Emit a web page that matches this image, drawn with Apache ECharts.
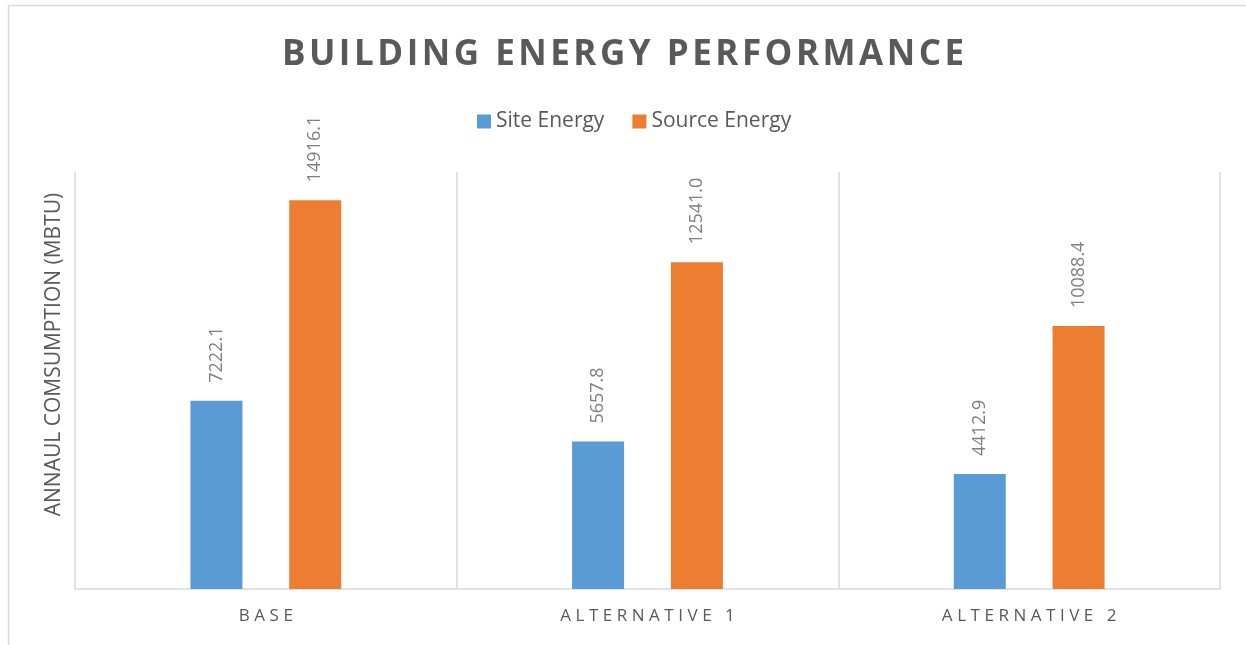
<!DOCTYPE html>
<html>
<head>
<meta charset="utf-8">
<script src="https://cdn.jsdelivr.net/npm/echarts@6/dist/echarts.min.js"></script>
<style>
  html, body { margin: 0; padding: 0; background: #fff; }
  #chart { width: 1246px; height: 645px; }
</style>
</head>
<body>
<div id="chart"></div>
<script>
// Annual energy use per design option (MBTU)
const categories = ['BASE', 'ALTERNATIVE 1', 'ALTERNATIVE 2'];
const siteEnergy = [7222.1, 5657.8, 4412.9];
const sourceEnergy = [14916.1, 12541.0, 10088.4];
const seriesNames = ['Site Energy', 'Source Energy'];
const chartTitle = 'BUILDING ENERGY PERFORMANCE';
const axisTitle = 'ANNAUL COMSUMPTION (MBTU)';

// canvas text has no tracking, so widen it with narrow space characters
const spaced = (s, gap) => s.split('').join(gap);

const chart = echarts.init(document.getElementById('chart'));

const labelStyle = {
  show: true,
  position: 'top',
  rotate: 90,
  align: 'left',
  verticalAlign: 'middle',
  distance: 18,
  color: '#7f7f7f',
  fontFamily: 'Open Sans',
  fontSize: 18,
  formatter: p => p.value.toFixed(1)
};

chart.setOption({
  animation: false,
  title: {
    text: spaced(chartTitle, '\u200A'),
    left: 'center',
    top: 33,
    textStyle: {
      fontFamily: 'Open Sans',
      fontWeight: 'bold',
      fontSize: 35,
      color: '#595959'
    }
  },
  legend: {
    data: seriesNames,
    top: 106,
    left: 472,
    itemWidth: 14,
    itemHeight: 14,
    itemGap: 28,
    icon: 'rect',
    textStyle: { fontFamily: 'Open Sans', fontSize: 21, color: '#595959' }
  },
  grid: { left: 75, right: 26, top: 172, bottom: 56 },
  xAxis: {
    type: 'category',
    data: categories,
    axisLine: { lineStyle: { color: '#d9d9d9', width: 1.5 } },
    axisTick: { show: false },
    splitLine: { show: true, lineStyle: { color: '#d9d9d9', width: 1.5 } },
    axisLabel: {
      color: '#595959',
      fontFamily: 'Open Sans',
      fontSize: 17,
      margin: 19,
      formatter: v => spaced(v, '\u2009\u200A')
    }
  },
  yAxis: {
    type: 'value',
    min: 0,
    max: 16000,
    interval: 2000,
    name: axisTitle,
    nameLocation: 'middle',
    nameGap: 10,
    nameRotate: 90,
    nameTextStyle: { fontFamily: 'Open Sans', fontSize: 21, color: '#595959', padding: [0, 0, 0, 52] },
    axisLabel: { show: false },
    axisLine: { show: false },
    axisTick: { show: false },
    splitLine: { show: false }
  },
  series: [
    {
      name: seriesNames[0],
      type: 'bar',
      data: siteEnergy,
      barWidth: 52,
      barGap: '90%',
      itemStyle: { color: '#5b9bd5' },
      label: labelStyle
    },
    {
      name: seriesNames[1],
      type: 'bar',
      data: sourceEnergy,
      barWidth: 52,
      barGap: '90%',
      itemStyle: { color: '#ed7d31' },
      label: labelStyle
    }
  ],
  graphic: [
    { type: 'line', shape: { x1: 8, y1: 5.5, x2: 1246, y2: 5.5 }, style: { stroke: '#d9d9d9', lineWidth: 1.5 } },
    { type: 'line', shape: { x1: 8.5, y1: 5, x2: 8.5, y2: 645 }, style: { stroke: '#d9d9d9', lineWidth: 1.5 } }
  ]
});
</script>
</body>
</html>
